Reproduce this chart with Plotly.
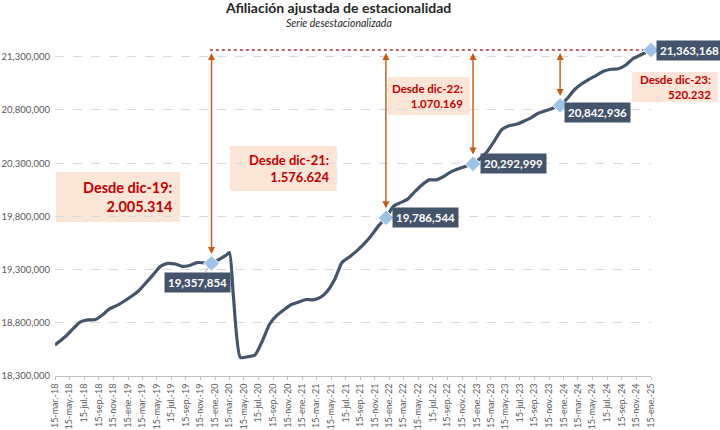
import plotly.graph_objects as go
import pandas as pd

# ---------------- data ----------------
month_ends_a = [d.strftime("%Y-%m-%d") for d in pd.date_range("2018-03-31", "2020-02-29", freq="ME")]
month_ends_b = [d.strftime("%Y-%m-%d") for d in pd.date_range("2020-03-31", "2024-12-31", freq="ME")]
dates = ["2018-03-15"] + month_ends_a + ["2020-03-15"] + month_ends_b + ["2025-01-15"]

afiliados = [
    18592000,
    18620000, 18676000, 18747000, 18808000, 18827000, 18831000, 18874000, 18933000,
    18963000, 19005000, 19052000, 19099000, 19175000, 19250000, 19330000, 19358000,
    19353000, 19330000, 19339000, 19366000, 19363000, 19357854, 19394000, 19433000,
    19460000,
    19071000, 18474000, 18481000, 18497000, 18629000, 18789000, 18869000, 18925000,
    18972000, 18996000, 19019000, 19015000, 19038000, 19099000, 19212000, 19367000,
    19419000, 19476000, 19541000, 19621000, 19711000, 19786544, 19894000, 19927000,
    19960000, 20030000, 20096000, 20143000, 20143000, 20176000, 20219000, 20247000,
    20270000, 20292999, 20346000, 20407000, 20510000, 20614000, 20651000, 20665000,
    20694000, 20726000, 20769000, 20792000, 20816000, 20842936, 20910000, 20990000,
    21046000, 21088000, 21126000, 21164000, 21183000, 21187000, 21220000, 21281000,
    21314000, 21347000,
    21363168,
]

highlight_dates = ["2019-12-31", "2021-12-31", "2022-12-31", "2023-12-31", "2025-01-15"]
highlight_names = ["dic-19", "dic-21", "dic-22", "dic-23"]

meses = ["ene", "feb", "mar", "abr", "may", "jun", "jul", "ago", "sep", "oct", "nov", "dic"]
tick_dates = list(pd.date_range("2018-03-01", "2025-01-01", freq="2MS") + pd.Timedelta(days=14))
tick_vals = [d.strftime("%Y-%m-%d") for d in tick_dates]
tick_text = [f"15-{meses[d.month-1]}.-{d.strftime('%y')}" for d in tick_dates]

y_ticks = [18300000, 18800000, 19300000, 19800000, 20300000, 20800000, 21300000]

title_text = "Afiliación ajustada de estacionalidad"
subtitle_text = "Serie desestacionalizada"

# ---------------- layout helpers ----------------
W, H = 720, 430
L, R, T, B = 55, 69, 44, 54
PW, PH = W - L - R, H - T - B


def px(x):  # pixel -> paper x
    return (x - L) / PW


def py(y):  # pixel -> paper y
    return (H - B - y) / PH


FONT = "Lato, 'Noto Sans', sans-serif"
LINE_COLOR = "#44546A"
ARROW_COLOR = "#C55A11"
RED = "#C00000"
PINK = "#FBE5D6"

hl_vals = [afiliados[dates.index(d)] for d in highlight_dates]
last_date, last_val = highlight_dates[-1], hl_vals[-1]

fig = go.Figure()
fig.add_trace(go.Scatter(
    x=dates, y=afiliados, mode="lines",
    line=dict(color=LINE_COLOR, width=3.2, shape="spline", smoothing=0.6),
    hoverinfo="skip", showlegend=False, cliponaxis=False,
))
fig.add_trace(go.Scatter(
    x=highlight_dates, y=hl_vals, mode="markers",
    marker=dict(symbol="diamond", size=12, color="#9DC3E6", line=dict(color="white", width=1)),
    showlegend=False, hoverinfo="skip", cliponaxis=False,
))

shapes = []
annotations = []

# dotted reference line at latest value
shapes.append(dict(type="line", xref="x", yref="y", x0="2019-12-24", x1=last_date,
                   y0=last_val, y1=last_val,
                   line=dict(color="#A5312C", width=1.5, dash="dot"), layer="below"))

# double-headed arrows
for d, v in zip(highlight_dates[:-1], hl_vals[:-1]):
    annotations.append(dict(
        x=d, y=last_val, ax=d, ay=v, xref="x", yref="y", axref="x", ayref="y",
        showarrow=True, arrowhead=2, arrowside="end+start", arrowsize=1, arrowwidth=1.4,
        arrowcolor=ARROW_COLOR, standoff=3, startstandoff=8, text=""))

# pink difference boxes: (x0, y0, x1, y1) pixels, font size
boxes = [
    ((56, 172, 180, 222), 14.5),
    ((230, 146, 337, 191), 13),
    ((388, 77, 470, 115), 11.5),
    ((632, 72, 718, 102), 11.5),
]
for (rect, fs), name, v in zip(boxes, highlight_names, hl_vals[:-1]):
    x0, y0, x1, y1 = rect
    shapes.append(dict(type="rect", xref="paper", yref="paper",
                       x0=px(x0), x1=px(x1), y0=py(y1), y1=py(y0),
                       fillcolor=PINK, line=dict(width=0), layer="below"))
    diff = f"{last_val - v:,}".replace(",", ".")
    annotations.append(dict(
        xref="paper", yref="paper", x=px(x1 - 5), y=py((y0 + y1) / 2),
        xanchor="right", yanchor="middle", align="right", showarrow=False,
        text=f"<b>Desde {name}:<br>{diff}</b>",
        font=dict(family=FONT, size=fs, color=RED)))

# dark value labels: (xshift, yshift, leader)
label_pos = [(-14, 19, True), (40, 0, False), (40, 0, False), (37, -7, False), (38, 0, False)]
for d, v, (dx, dy, leader) in zip(highlight_dates, hl_vals, label_pos):
    base = dict(x=d, y=v, xref="x", yref="y", text=f"<b>{v:,}</b>",
                font=dict(family=FONT, size=11.5, color="white"),
                bgcolor=LINE_COLOR, borderpad=3)
    if leader:
        base.update(showarrow=True, ax=dx, ay=dy, arrowhead=0, arrowwidth=1,
                    arrowcolor="#A6A6A6", standoff=5)
    else:
        base.update(showarrow=False, xshift=dx, yshift=dy)
    annotations.append(base)

# title & subtitle
annotations.append(dict(xref="paper", yref="paper", x=px(338), y=py(8), xanchor="center",
                        yanchor="middle", showarrow=False, text=f"<b>{title_text}</b>",
                        font=dict(family=FONT, size=14, color="#262626")))
annotations.append(dict(xref="paper", yref="paper", x=px(339), y=py(23), xanchor="center",
                        yanchor="middle", showarrow=False, text=f"<i>{subtitle_text}</i>",
                        font=dict(family=FONT, size=10.5, color="#262626")))

fig.update_layout(
    width=W, height=H, margin=dict(l=L, r=R, t=T, b=B, autoexpand=False),
    paper_bgcolor="white", plot_bgcolor="white",
    font=dict(family=FONT, color="#595959"),
    shapes=shapes, annotations=annotations, showlegend=False,
    xaxis=dict(
        type="date", range=["2018-03-15", "2025-01-15"], automargin=False,
        tickvals=tick_vals, ticktext=tick_text, tickangle=-90,
        tickfont=dict(size=9, color="#595959"),
        showgrid=False, showline=True, linecolor="#BFBFBF", linewidth=1,
        ticks="outside", ticklen=3, tickcolor="#BFBFBF", zeroline=False,
    ),
    yaxis=dict(
        range=[18300000, 21420000], tickvals=y_ticks, tickformat=",", automargin=False,
        tickfont=dict(size=9.5, color="#595959"),
        showgrid=True, gridcolor="#D9D9D9", griddash="dash", gridwidth=1,
        zeroline=False, showline=False, ticks="", ticklabelstandoff=4,
    ),
)

fig.write_html("out.html", config={"displayModeBar": False},
               post_script="document.body.style.margin='0';document.body.style.padding='0';")
